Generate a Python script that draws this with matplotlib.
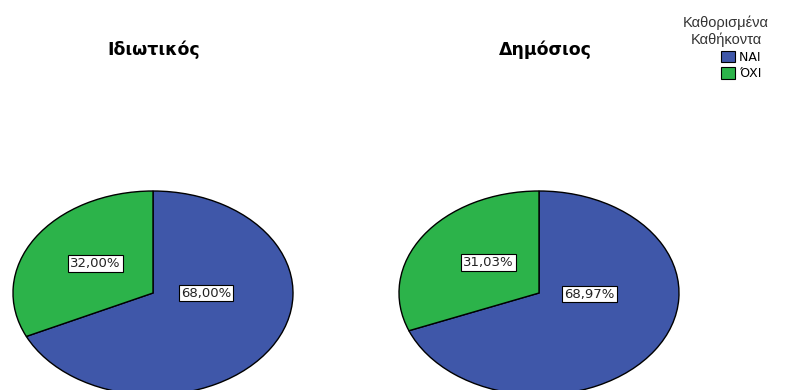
import matplotlib
matplotlib.use('Agg')
import matplotlib.pyplot as plt
from matplotlib.patches import Patch

# data
groups = ['Ιδιωτικός', 'Δημόσιος']
categories = ['ΝΑΙ', 'ΌΧΙ']
values = {
    'Ιδιωτικός': [68.00, 32.00],
    'Δημόσιος': [68.97, 31.03],
}
legend_title = 'Καθορισμένα\nΚαθήκοντα'
colors = ['#3F57A9', '#2CB34A']

plt.rcParams['font.family'] = ['DejaVu Sans']

fig = plt.figure(figsize=(7.97, 3.90), dpi=100)
W, H = 797, 390

# pixel boxes (left, top, width, height) for each ellipse
pie_boxes = [(13, 191, 280, 204), (399, 191, 280, 204)]
title_pos = [(154, 50), (545, 50)]
# label offsets in the unit-ellipse coordinates (NAI, OXI)
label_offsets = [[(0.38, 0.0), (-0.41, 0.29)],
                 [(0.36, -0.01), (-0.36, 0.30)]]

for g, box, tpos, offs in zip(groups, pie_boxes, title_pos, label_offsets):
    l, t, w, h = box
    ax = fig.add_axes([l / W, (H - t - h) / H, w / W, h / H])
    wedges, _ = ax.pie(values[g], colors=colors, startangle=90, counterclock=False,
                       wedgeprops=dict(edgecolor='black', linewidth=1.0))
    for wdg in wedges:
        wdg.set_clip_on(False)
    ax.set_aspect('auto')
    ax.set_xlim(-1, 1)
    ax.set_ylim(-1, 1)
    ax.axis('off')
    for v, (dx, dy) in zip(values[g], offs):
        ax.text(dx, dy, f'{v:.2f}%'.replace('.', ','), ha='center', va='center',
                fontsize=9.5, color='#222222',
                bbox=dict(boxstyle='square,pad=0.15', facecolor='white',
                          edgecolor='black', linewidth=0.8))
    fig.text(tpos[0] / W, 1 - tpos[1] / H, g, ha='center', va='center',
             fontsize=12.5, fontweight='bold')

handles = [Patch(facecolor=c, edgecolor='black', linewidth=0.8) for c in colors]
# trailing spaces keep the entries a little left of the title's right edge
leg = fig.legend(handles, [c + '  ' for c in categories], title=legend_title,
                 loc='upper center', bbox_to_anchor=(726 / W, 1 - 8 / H), frameon=False,
                 fontsize=9, title_fontsize=10.5, handlelength=1.1, handleheight=1.0,
                 handletextpad=0.3, labelspacing=0.3, borderpad=0.1,
                 alignment='right')
leg.get_title().set_multialignment('center')
leg.get_title().set_color('#333333')
leg.get_title().set_family(['Liberation Sans'])

fig.savefig('out.png', dpi=100)
